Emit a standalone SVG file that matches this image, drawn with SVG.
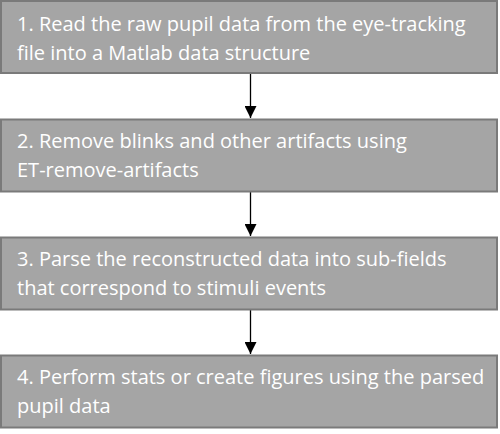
<svg xmlns="http://www.w3.org/2000/svg" width="500" height="434" viewBox="0 0 500 434">
  <style>
    .box { fill: #a5a5a5; stroke: #7a7a7a; stroke-width: 2; }
    .lbl { font-family: "Open Sans", "Liberation Sans", sans-serif; font-size: 20px; fill: #ffffff; }
    .conn { stroke: #000000; stroke-width: 1.3; fill: none; marker-end: url(#arrow); }
  </style>
  <defs>
    <marker id="arrow" viewBox="0 0 10 10" refX="10" refY="5" markerUnits="userSpaceOnUse" markerWidth="12" markerHeight="12" orient="auto">
      <path d="M0,0 L10,5 L0,10 Z" fill="#000000"/>
    </marker>
  </defs>

  <g id="connectors">
    <line class="conn" x1="250.5" y1="74" x2="250.5" y2="118"/>
    <line class="conn" x1="250.5" y1="192" x2="250.5" y2="236"/>
    <line class="conn" x1="250.5" y1="310" x2="250.5" y2="354"/>
  </g>

  <g id="step1">
    <rect class="box" x="1" y="1" width="496" height="72"/>
    <text class="lbl" x="17" y="31">1. Read the raw pupil data from the eye-tracking</text>
    <text class="lbl" x="17" y="59.5">file into a Matlab data structure</text>
  </g>

  <g id="step2">
    <rect class="box" x="1" y="119.5" width="496" height="72"/>
    <text class="lbl" x="17" y="148">2. Remove blinks and other artifacts using</text>
    <text class="lbl" x="17" y="176.5">ET-remove-artifacts</text>
  </g>

  <g id="step3">
    <rect class="box" x="1" y="237.5" width="496" height="72"/>
    <text class="lbl" x="17" y="266">3. Parse the reconstructed data into sub-fields</text>
    <text class="lbl" x="17" y="294.5">that correspond to stimuli events</text>
  </g>

  <g id="step4">
    <rect class="box" x="1" y="355.5" width="496" height="72"/>
    <text class="lbl" x="17" y="384">4. Perform stats or create figures using the parsed</text>
    <text class="lbl" x="17" y="412.5">pupil data</text>
  </g>
</svg>
